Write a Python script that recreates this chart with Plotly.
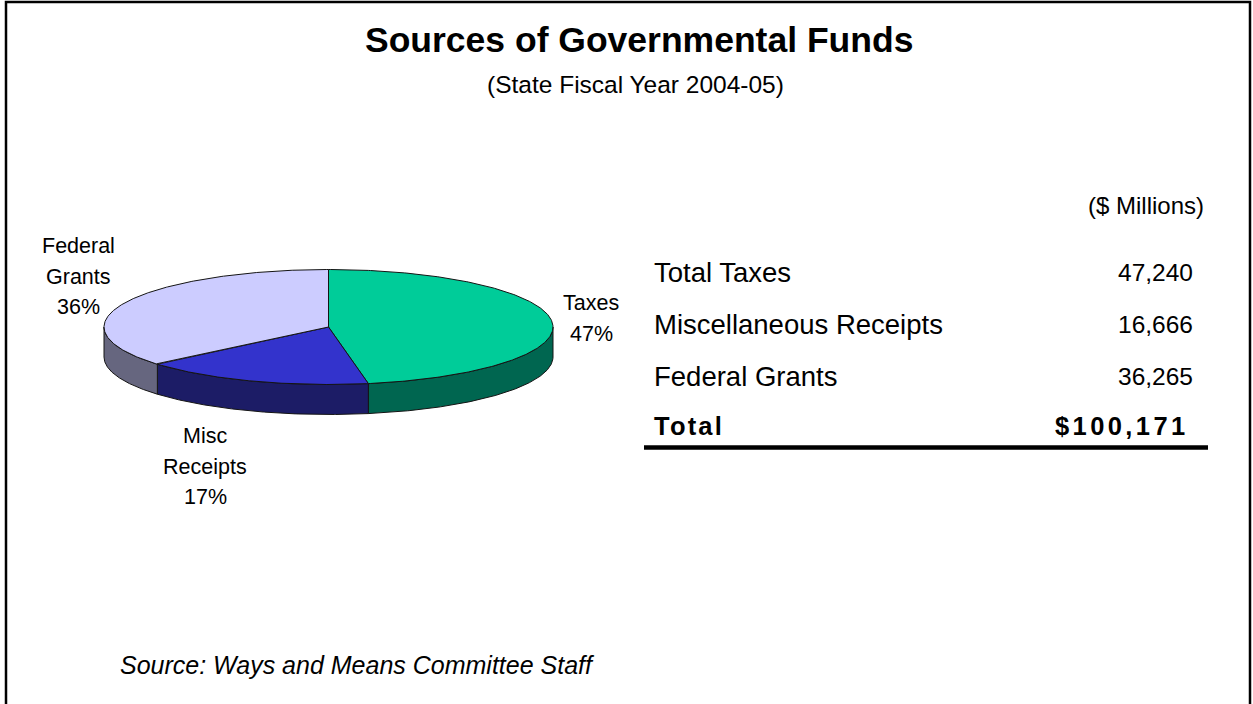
import numpy as np
import plotly.graph_objects as go

# ---- data ----
categories = ["Taxes", "Misc Receipts", "Federal Grants"]
pie_label_lines = [["Taxes"], ["Misc", "Receipts"], ["Federal", "Grants"]]
table_labels = ["Total Taxes", "Miscellaneous Receipts", "Federal Grants"]
amounts = [47240, 16666, 36265]          # $ millions
total_label = "Total"
units_label = "($ Millions)"
title_text = "Sources of Governmental Funds"
subtitle_text = "(State Fiscal Year 2004-05)"
source_text = "Source: Ways and Means Committee Staff"

# ---- styles ----
top_colors = ["#00CC99", "#3333CC", "#CCCCFF"]
side_colors = ["#006650", "#1C1C66", "#66667F"]
FONT = "Liberation Sans, Arial, sans-serif"
W, H = 1253, 704

# pie geometry (pixel space of the page)
CX, CY, RX, RY, DEPTH = 328.5, 327, 224.5, 57.5, 30
# label anchor per slice: (x, y of first line), line step
label_anchor = [(591, 303), (205, 436), (78, 246)]
LINE_STEP = 30.5


def ellipse(theta_deg, dy=0.0):
    t = np.radians(theta_deg)
    return CX + RX * np.sin(t), CY - RY * np.cos(t) + dy


total = sum(amounts)
fracs = [a / total for a in amounts]
bounds = np.concatenate([[0.0], np.cumsum(fracs) * 360.0])

fig = go.Figure()
edge = dict(color="#141414", width=1)

# side walls (front half of the disc only)
for i in range(len(amounts)):
    a0, a1 = bounds[i], bounds[i + 1]
    s, e = max(a0, 90.0), min(a1, 270.0)
    if s >= e:
        continue
    th = np.linspace(s, e, 200)
    xt, yt = ellipse(th)
    xb, yb = ellipse(th[::-1], DEPTH)
    fig.add_trace(go.Scatter(
        x=np.concatenate([xt, xb, xt[:1]]), y=np.concatenate([yt, yb, yt[:1]]),
        mode="lines", fill="toself", fillcolor=side_colors[i], line=edge,
        hoverinfo="skip", showlegend=False))

# top faces
for i in range(len(amounts)):
    a0, a1 = bounds[i], bounds[i + 1]
    th = np.linspace(a0, a1, 300)
    xa, ya = ellipse(th)
    fig.add_trace(go.Scatter(
        x=np.concatenate([[CX], xa, [CX]]), y=np.concatenate([[CY], ya, [CY]]),
        mode="lines", fill="toself", fillcolor=top_colors[i], line=edge,
        name=categories[i], hoverinfo="name", showlegend=False))

annotations = []


def add_text(x, y, text, size, anchor="center", **kw):
    annotations.append(dict(
        x=x, y=y, xref="x", yref="y", text=text, showarrow=False,
        xanchor=anchor, yanchor="middle",
        font=dict(family=FONT, size=size, color="black"), **kw))


def spaced(text, px):
    return f'<span style="letter-spacing:{px}px">{text}</span>'


# slice labels
for i, lines in enumerate(pie_label_lines):
    pct = f"{round(fracs[i] * 100)}%"
    x0, y0 = label_anchor[i]
    for k, line in enumerate(lines + [pct]):
        add_text(x0, y0 + k * LINE_STEP, line, 21.5)

# titles
add_text(639, 40, f"<b>{title_text}</b>", 35.5)
add_text(635, 84, subtitle_text, 24.5)
add_text(118, 665, f"<i>{source_text}</i>", 25)

annotations[-1]["xanchor"] = "left"

# table
TBL_L, TBL_R, LINE_R = 652, 1195, 1208
row_y = [272, 324, 376]
add_text(1206, 205, units_label, 24, anchor="right")
for lbl, val, y in zip(table_labels, amounts, row_y):
    add_text(TBL_L, y, lbl, 27.5, anchor="left")
    add_text(TBL_R, y, f"{val:,}", 24.5, anchor="right")
add_text(TBL_L, 426, spaced(f"<b>{total_label}</b>", 2.2), 25.5, anchor="left")
add_text(TBL_R - 4, 426, spaced(f"<b>${total:,}</b>", 3.4), 25.5, anchor="right")

shapes = [
    dict(type="line", xref="x", yref="y", x0=644, x1=LINE_R, y0=447.5, y1=447.5,
         line=dict(color="black", width=4.5)),
    # page frame (open at the bottom)
    dict(type="rect", xref="paper", yref="paper", x0=6 / W, x1=1250 / W,
         y0=-0.05, y1=1 - 2 / H, line=dict(color="black", width=2.5)),
]

fig.update_layout(
    width=W, height=H, margin=dict(l=0, r=0, t=0, b=0),
    paper_bgcolor="white", plot_bgcolor="white",
    xaxis=dict(range=[0, W], visible=False, fixedrange=True),
    yaxis=dict(range=[H, 0], visible=False, fixedrange=True),
    annotations=annotations, shapes=shapes, showlegend=False,
)

fig.write_html("out.html")
